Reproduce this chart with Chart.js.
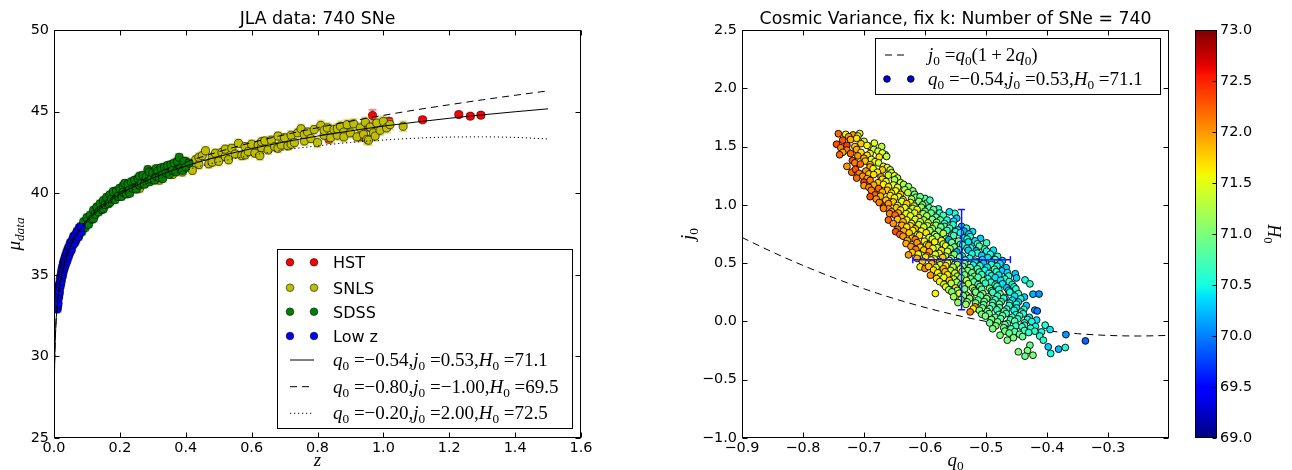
<!DOCTYPE html>
<html>
<head>
<meta charset="utf-8">
<title>JLA SNe: Hubble diagram and cosmography fits</title>
<script src="https://cdn.jsdelivr.net/npm/chart.js@4.4.1/dist/chart.umd.min.js"></script>
<style>
  html, body { margin: 0; padding: 0; background: #fff; }
  #wrap { position: relative; width: 1292px; height: 470px; overflow: hidden; }
  #wrap canvas { position: absolute; top: 0; }
  #left { left: 0; }
  #right { left: 640px; }
  #cbar { left: 1180px; }
</style>
</head>
<body>
<div id="wrap">
  <canvas id="left" width="640" height="470"></canvas>
  <canvas id="right" width="540" height="470"></canvas>
  <canvas id="cbar" width="112" height="470"></canvas>
</div>
<script>
// ---- Hubble diagram: [z, mu, sigma_mu] per survey ----
const hstSNe = [
  [0.835, 43.30, 0.20], [0.930, 43.45, 0.20], [0.955, 44.05, 0.25], [0.967, 44.76, 0.35],
  [1.017, 44.41, 0.18], [1.119, 44.50, 0.15], [1.229, 44.82, 0.14], [1.264, 44.72, 0.14],
  [1.296, 44.78, 0.14]
];
const snlsSNe = [
  [0.22, 40.35, 0.25], [0.26, 40.30, 0.25], [0.30, 41.20, 0.25], [0.32, 40.80, 0.25], [0.34, 41.35, 0.25],
  [0.36, 41.15, 0.25], [0.36, 41.55, 0.25], [0.37, 41.70, 0.25], [0.39, 41.30, 0.25], [0.40, 41.95, 0.25],
  [0.41, 41.60, 0.25], [0.42, 41.40, 0.25], [0.43, 42.05, 0.25], [0.44, 41.75, 0.25], [0.44, 42.20, 0.25],
  [0.45, 42.30, 0.25], [0.46, 42.60, 0.25], [0.47, 41.80, 0.25], [0.48, 42.20, 0.25], [0.48, 41.90, 0.25],
  [0.49, 42.45, 0.25], [0.50, 41.95, 0.25], [0.51, 42.50, 0.25], [0.52, 42.25, 0.25], [0.52, 42.70, 0.25],
  [0.53, 42.05, 0.25], [0.54, 42.75, 0.25], [0.55, 42.40, 0.25], [0.56, 43.05, 0.25], [0.57, 42.30, 0.25],
  [0.58, 42.85, 0.25], [0.58, 42.35, 0.25], [0.59, 42.55, 0.25], [0.60, 43.00, 0.25], [0.61, 42.45, 0.25],
  [0.62, 42.95, 0.25], [0.625, 42.30, 0.25], [0.63, 42.80, 0.25], [0.63, 43.15, 0.25], [0.64, 43.20, 0.25],
  [0.65, 42.65, 0.25], [0.66, 43.25, 0.25], [0.67, 42.85, 0.25], [0.68, 43.50, 0.25], [0.68, 42.75, 0.25],
  [0.69, 42.95, 0.25], [0.70, 43.40, 0.25], [0.71, 42.90, 0.25], [0.72, 43.55, 0.25], [0.72, 43.00, 0.25],
  [0.73, 43.10, 0.25], [0.74, 43.70, 0.25], [0.75, 43.95, 0.25], [0.76, 43.20, 0.25], [0.76, 43.60, 0.25],
  [0.77, 43.75, 0.25], [0.78, 43.35, 0.25], [0.79, 43.90, 0.25], [0.80, 43.10, 0.30], [0.81, 44.15, 0.30],
  [0.82, 43.55, 0.30], [0.82, 43.85, 0.30], [0.83, 44.00, 0.30], [0.84, 43.40, 0.30], [0.85, 43.90, 0.30],
  [0.86, 43.55, 0.30], [0.86, 43.95, 0.30], [0.87, 44.10, 0.30], [0.88, 43.75, 0.30], [0.88, 43.45, 0.30],
  [0.89, 44.20, 0.30], [0.90, 43.70, 0.30], [0.91, 44.25, 0.30], [0.92, 43.45, 0.30], [0.93, 44.00, 0.30],
  [0.94, 43.60, 0.30], [0.945, 44.35, 0.30], [0.95, 43.30, 0.30], [0.955, 43.25, 0.30], [0.96, 44.05, 0.30],
  [0.97, 43.70, 0.30], [0.975, 43.50, 0.30], [0.98, 44.30, 0.30], [0.99, 43.85, 0.30], [1.00, 44.40, 0.30],
  [1.01, 44.00, 0.30], [1.02, 44.20, 0.30], [1.06, 44.10, 0.30]
];
const sdssSNe = [
  [0.045, 36.55, 0.2], [0.050, 36.95, 0.2], [0.055, 36.85, 0.2], [0.060, 37.30, 0.2], [0.065, 37.05, 0.2],
  [0.070, 37.60, 0.2], [0.075, 37.35, 0.2], [0.080, 37.95, 0.2], [0.085, 37.65, 0.2], [0.090, 38.25, 0.2],
  [0.095, 37.90, 0.2], [0.100, 38.50, 0.2], [0.105, 38.10, 0.2], [0.110, 38.65, 0.2], [0.115, 38.40, 0.2],
  [0.120, 38.95, 0.2], [0.120, 38.45, 0.2], [0.125, 38.70, 0.2], [0.130, 39.15, 0.2], [0.135, 38.85, 0.2],
  [0.140, 39.35, 0.2], [0.145, 39.00, 0.2], [0.150, 39.55, 0.2], [0.150, 39.05, 0.2], [0.155, 39.30, 0.2],
  [0.160, 39.75, 0.2], [0.165, 39.35, 0.2], [0.170, 39.90, 0.2], [0.170, 39.45, 0.2], [0.175, 39.65, 0.2],
  [0.180, 40.10, 0.2], [0.185, 39.60, 0.2], [0.190, 40.15, 0.2], [0.195, 39.80, 0.2], [0.200, 40.30, 0.2],
  [0.205, 39.80, 0.2], [0.210, 40.45, 0.2], [0.210, 40.05, 0.2], [0.215, 40.60, 0.2], [0.220, 39.95, 0.2],
  [0.225, 40.55, 0.2], [0.230, 40.20, 0.2], [0.230, 40.00, 0.2], [0.235, 40.70, 0.2], [0.240, 40.30, 0.2],
  [0.245, 40.80, 0.2], [0.250, 40.25, 0.2], [0.255, 40.90, 0.2], [0.260, 40.50, 0.2], [0.260, 41.05, 0.2],
  [0.265, 40.60, 0.2], [0.270, 41.10, 0.2], [0.275, 40.55, 0.2], [0.280, 41.00, 0.2], [0.285, 41.45, 0.2],
  [0.290, 40.70, 0.2], [0.290, 41.30, 0.2], [0.295, 40.85, 0.2], [0.300, 41.25, 0.2], [0.305, 40.80, 0.2],
  [0.310, 41.50, 0.2], [0.310, 41.05, 0.2], [0.315, 41.35, 0.2], [0.320, 40.95, 0.2], [0.325, 41.55, 0.2],
  [0.330, 41.10, 0.2], [0.330, 40.90, 0.2], [0.335, 41.60, 0.2], [0.340, 41.25, 0.2], [0.345, 41.70, 0.2],
  [0.350, 41.15, 0.2], [0.355, 41.75, 0.2], [0.360, 41.40, 0.2], [0.365, 41.85, 0.2], [0.370, 41.30, 0.2],
  [0.375, 41.95, 0.2], [0.380, 42.20, 0.2], [0.385, 41.55, 0.2], [0.390, 41.40, 0.2], [0.395, 41.95, 0.2],
  [0.400, 41.60, 0.2], [0.410, 41.85, 0.2]
];
const lowzSNe = [
  [0.0100, 32.90, 0.2], [0.0105, 33.35, 0.2], [0.0110, 33.10, 0.2], [0.0120, 33.65, 0.2], [0.0125, 33.25, 0.2],
  [0.0130, 33.80, 0.2], [0.0140, 33.60, 0.2], [0.0145, 34.20, 0.2], [0.0150, 33.80, 0.2], [0.0160, 34.35, 0.2],
  [0.0165, 33.95, 0.2], [0.0170, 34.45, 0.2], [0.0180, 34.25, 0.2], [0.0190, 34.75, 0.2], [0.0200, 34.40, 0.2],
  [0.0210, 34.95, 0.2], [0.0220, 34.60, 0.2], [0.0230, 35.20, 0.2], [0.0240, 34.85, 0.2], [0.0250, 35.40, 0.2],
  [0.0260, 35.00, 0.2], [0.0270, 35.55, 0.2], [0.0280, 35.20, 0.2], [0.0290, 35.75, 0.2], [0.0300, 35.35, 0.2],
  [0.0310, 35.85, 0.2], [0.0320, 35.50, 0.2], [0.0330, 36.00, 0.2], [0.0340, 35.60, 0.2], [0.0350, 36.15, 0.2],
  [0.0360, 35.75, 0.2], [0.0380, 36.30, 0.2], [0.0390, 35.85, 0.2], [0.0400, 36.45, 0.2], [0.0420, 36.05, 0.2],
  [0.0440, 36.65, 0.2], [0.0450, 36.20, 0.2], [0.0470, 36.75, 0.2], [0.0490, 36.40, 0.2], [0.0510, 36.95, 0.2],
  [0.0530, 36.55, 0.2], [0.0550, 37.10, 0.2], [0.0580, 36.85, 0.2], [0.0600, 37.35, 0.2], [0.0620, 36.95, 0.2],
  [0.0650, 37.45, 0.2], [0.0680, 37.20, 0.2], [0.0700, 37.65, 0.2], [0.0730, 37.35, 0.2], [0.0760, 37.85, 0.2],
  [0.0800, 37.60, 0.2], [0.0830, 37.90, 0.2]
];
const surveyNames = ['HST', 'SNLS', 'SDSS', 'Low z'];

// cosmographic fits (q0, j0, H0)
const modelQ0 = [-0.54, -0.80, -0.20];
const modelJ0 = [0.53, -1.00, 2.00];
const modelH0 = [71.1, 69.5, 72.5];
// distance modulus of each fit sampled along z
const curveZ   = [0.001, 0.002, 0.005, 0.01, 0.02, 0.03, 0.05, 0.07, 0.1, 0.15, 0.2, 0.3, 0.4, 0.5, 0.6, 0.7, 0.8, 0.9, 1.0, 1.1, 1.2, 1.3, 1.4, 1.5];
const muBest   = [28.13, 29.63, 31.63, 33.14, 34.66, 35.56, 36.70, 37.46, 38.28, 39.23, 39.93, 40.93, 41.66, 42.25, 42.73, 43.14, 43.50, 43.82, 44.11, 44.36, 44.59, 44.80, 44.99, 45.17];
const muSteep  = [28.18, 29.68, 31.68, 33.19, 34.72, 35.62, 36.77, 37.53, 38.37, 39.34, 40.05, 41.11, 41.90, 42.54, 43.10, 43.58, 44.01, 44.41, 44.77, 45.11, 45.42, 45.72, 46.00, 46.27];
const muFlat   = [28.08, 29.59, 31.58, 33.10, 34.61, 35.51, 36.64, 37.39, 38.20, 39.13, 39.79, 40.74, 41.41, 41.92, 42.32, 42.65, 42.90, 43.11, 43.26, 43.37, 43.44, 43.45, 43.42, 43.32];

// ---- cosmic variance samples: [q0, j0, H0] ----
const cvSamples = [
  [-0.742, 1.610, 72.2], [-0.730, 1.605, 71.6], [-0.718, 1.600, 72.0], [-0.707, 1.612, 71.5],
  [-0.725, 1.585, 72.0], [-0.710, 1.590, 71.6],
  [-0.735, 1.555, 72.3], [-0.722, 1.560, 71.9], [-0.712, 1.570, 71.7], [-0.700, 1.545, 71.4],
  [-0.745, 1.520, 72.3], [-0.705, 1.525, 71.8], [-0.690, 1.500, 71.5],
  [-0.738, 1.490, 72.1], [-0.728, 1.510, 72.4], [-0.715, 1.500, 71.8], [-0.695, 1.510, 71.6], [-0.683, 1.530, 71.5], [-0.671, 1.500, 71.3],
  [-0.728, 1.470, 72.1], [-0.712, 1.475, 71.9], [-0.684, 1.475, 71.4],
  [-0.735, 1.450, 71.9], [-0.722, 1.440, 72.2], [-0.705, 1.450, 71.7], [-0.690, 1.440, 71.6], [-0.677, 1.460, 71.4], [-0.665, 1.430, 71.2],
  [-0.740, 1.430, 72.2], [-0.710, 1.420, 72.0], [-0.695, 1.425, 71.7], [-0.670, 1.445, 71.5],
  [-0.719, 1.380, 72.3], [-0.700, 1.400, 71.9], [-0.688, 1.390, 71.5], [-0.675, 1.410, 71.7], [-0.663, 1.415, 71.3],
  [-0.715, 1.360, 72.1], [-0.698, 1.375, 71.8], [-0.682, 1.370, 71.6],
  [-0.728, 1.330, 72.0], [-0.706, 1.350, 72.2], [-0.690, 1.345, 71.8], [-0.676, 1.360, 71.4], [-0.668, 1.330, 71.6],
  [-0.720, 1.280, 72.2], [-0.690, 1.325, 71.9], [-0.662, 1.320, 71.5],
  [-0.714, 1.305, 72.3], [-0.697, 1.290, 72.0], [-0.685, 1.310, 71.6], [-0.670, 1.300, 71.8], [-0.657, 1.300, 71.3],
  [-0.708, 1.270, 72.1], [-0.692, 1.265, 71.8], [-0.678, 1.280, 71.6], [-0.655, 1.275, 71.4],
  [-0.702, 1.245, 72.0], [-0.684, 1.260, 71.7], [-0.672, 1.240, 71.9], [-0.660, 1.255, 71.4], [-0.650, 1.250, 71.5],
  [-0.712, 1.230, 72.2], [-0.695, 1.225, 71.9], [-0.670, 1.220, 71.7], [-0.645, 1.230, 71.3],
  [-0.700, 1.196, 72.4], [-0.690, 1.210, 72.1], [-0.677, 1.190, 71.8], [-0.664, 1.200, 71.6], [-0.650, 1.215, 71.2], [-0.640, 1.190, 71.4],
  [-0.700, 1.165, 72.0], [-0.684, 1.170, 71.9], [-0.668, 1.175, 71.6], [-0.652, 1.170, 71.5], [-0.635, 1.175, 71.2],
  [-0.692, 1.150, 72.1], [-0.676, 1.140, 72.2], [-0.660, 1.155, 71.7], [-0.645, 1.150, 71.5], [-0.627, 1.156, 71.1],
  [-0.688, 1.125, 72.1], [-0.662, 1.125, 71.8], [-0.648, 1.120, 71.6], [-0.633, 1.130, 71.3], [-0.620, 1.120, 71.1],
  [-0.682, 1.085, 72.2], [-0.670, 1.110, 71.9], [-0.655, 1.100, 71.6], [-0.640, 1.090, 71.8], [-0.628, 1.105, 71.3], [-0.617, 1.090, 71.0],
  [-0.690, 1.070, 72.3], [-0.673, 1.075, 71.9], [-0.657, 1.080, 71.7], [-0.643, 1.070, 71.5], [-0.615, 1.065, 71.0], [-0.600, 1.055, 70.8],
  [-0.680, 1.050, 72.0], [-0.664, 1.040, 71.8], [-0.650, 1.060, 71.5], [-0.636, 1.045, 71.7], [-0.622, 1.050, 71.2], [-0.608, 1.070, 70.9],
  [-0.675, 1.020, 72.1], [-0.652, 1.025, 71.8], [-0.638, 1.030, 71.5], [-0.624, 1.020, 71.6], [-0.610, 1.030, 71.1], [-0.597, 1.015, 70.9],
  [-0.668, 0.983, 72.3], [-0.660, 1.010, 72.0], [-0.645, 0.995, 71.6], [-0.630, 1.010, 71.8], [-0.618, 0.990, 71.3], [-0.604, 1.000, 71.0], [-0.592, 1.040, 70.7],
  [-0.660, 0.965, 72.0], [-0.647, 0.975, 71.8], [-0.633, 0.975, 71.5], [-0.620, 0.970, 71.3], [-0.606, 0.980, 71.1], [-0.593, 0.975, 70.8], [-0.578, 0.965, 70.7],
  [-0.668, 0.970, 72.1], [-0.655, 0.940, 71.9], [-0.640, 0.955, 71.7], [-0.626, 0.940, 71.4], [-0.613, 0.960, 71.6], [-0.600, 0.945, 71.0], [-0.586, 0.960, 70.8], [-0.551, 0.927, 70.6],
  [-0.658, 0.925, 72.1], [-0.644, 0.930, 71.9], [-0.631, 0.925, 71.6], [-0.617, 0.930, 71.4], [-0.603, 0.925, 71.2], [-0.590, 0.930, 70.9], [-0.576, 0.930, 70.6], [-0.560, 0.940, 70.4],
  [-0.649, 0.913, 72.2], [-0.638, 0.890, 71.8], [-0.624, 0.905, 71.5], [-0.610, 0.890, 71.7], [-0.597, 0.905, 71.2], [-0.582, 0.895, 70.9], [-0.570, 0.910, 70.7], [-0.564, 0.870, 70.5],
  [-0.660, 0.870, 72.2], [-0.645, 0.875, 71.8], [-0.630, 0.870, 71.6], [-0.616, 0.875, 71.5], [-0.602, 0.870, 71.2], [-0.588, 0.875, 71.0], [-0.575, 0.870, 70.8], [-0.548, 0.885, 70.3],
  [-0.652, 0.840, 72.0], [-0.636, 0.855, 71.9], [-0.622, 0.840, 71.6], [-0.608, 0.855, 71.3], [-0.595, 0.845, 71.5], [-0.581, 0.850, 71.0], [-0.568, 0.840, 70.6], [-0.553, 0.860, 70.4],
  [-0.638, 0.825, 71.9], [-0.624, 0.820, 71.7], [-0.610, 0.830, 71.4], [-0.596, 0.820, 71.3], [-0.582, 0.825, 71.1], [-0.568, 0.815, 70.8], [-0.554, 0.830, 70.5], [-0.540, 0.815, 70.3],
  [-0.645, 0.790, 72.1], [-0.630, 0.810, 71.7], [-0.616, 0.795, 71.9], [-0.602, 0.810, 71.4], [-0.588, 0.795, 71.2], [-0.574, 0.810, 70.9], [-0.560, 0.800, 70.7], [-0.546, 0.785, 70.4], [-0.532, 0.800, 70.6],
  [-0.648, 0.770, 72.3], [-0.635, 0.775, 71.9], [-0.620, 0.780, 71.6], [-0.606, 0.775, 71.5], [-0.592, 0.780, 71.2], [-0.578, 0.775, 71.0], [-0.564, 0.780, 70.7], [-0.550, 0.770, 70.5], [-0.536, 0.775, 70.2], [-0.522, 0.770, 70.4],
  [-0.641, 0.746, 72.2], [-0.626, 0.760, 71.8], [-0.612, 0.745, 71.5], [-0.598, 0.760, 71.7], [-0.584, 0.745, 71.1], [-0.570, 0.755, 71.3], [-0.556, 0.740, 70.8], [-0.542, 0.760, 70.5], [-0.528, 0.750, 70.3],
  [-0.636, 0.731, 72.0], [-0.621, 0.714, 71.8], [-0.609, 0.738, 71.7], [-0.593, 0.719, 71.4], [-0.581, 0.728, 71.2], [-0.565, 0.709, 71.0], [-0.553, 0.736, 70.7], [-0.537, 0.716, 70.4], [-0.526, 0.727, 70.6], [-0.509, 0.712, 70.3],
  [-0.629, 0.694, 71.9], [-0.616, 0.703, 72.1], [-0.601, 0.688, 71.6], [-0.588, 0.706, 71.4], [-0.573, 0.693, 71.6], [-0.561, 0.701, 70.2], [-0.545, 0.689, 70.9], [-0.531, 0.707, 70.6], [-0.518, 0.691, 70.4],
  [-0.631, 0.668, 71.9], [-0.613, 0.676, 72.0], [-0.597, 0.659, 71.5], [-0.584, 0.681, 71.6], [-0.570, 0.664, 71.3], [-0.556, 0.677, 70.9], [-0.542, 0.661, 70.6], [-0.529, 0.682, 70.4], [-0.514, 0.666, 70.5], [-0.499, 0.674, 70.7],
  [-0.623, 0.643, 72.0], [-0.608, 0.636, 71.7], [-0.594, 0.651, 71.9], [-0.580, 0.633, 71.3], [-0.566, 0.648, 71.5], [-0.552, 0.638, 71.0], [-0.538, 0.655, 70.7], [-0.525, 0.631, 70.5], [-0.511, 0.646, 70.8],
  [-0.615, 0.618, 72.1], [-0.602, 0.612, 71.8], [-0.587, 0.627, 71.5], [-0.573, 0.609, 71.7], [-0.559, 0.624, 71.1], [-0.544, 0.613, 70.8], [-0.531, 0.628, 70.5], [-0.516, 0.606, 70.2], [-0.502, 0.621, 70.6], [-0.488, 0.611, 70.4],
  [-0.621, 0.592, 71.8], [-0.605, 0.567, 71.2], [-0.593, 0.598, 72.0], [-0.577, 0.584, 71.6], [-0.563, 0.601, 71.4], [-0.548, 0.597, 70.2], [-0.529, 0.610, 70.3], [-0.514, 0.586, 70.6], [-0.499, 0.603, 70.5],
  [-0.627, 0.571, 72.0], [-0.611, 0.578, 71.6], [-0.597, 0.563, 71.9], [-0.583, 0.575, 71.4], [-0.566, 0.559, 71.2], [-0.552, 0.574, 71.0], [-0.539, 0.562, 70.6], [-0.523, 0.579, 70.5], [-0.507, 0.566, 70.3], [-0.493, 0.577, 70.5], [-0.481, 0.558, 70.6],
  [-0.613, 0.541, 71.9], [-0.599, 0.552, 71.7], [-0.585, 0.536, 71.5], [-0.571, 0.549, 71.8], [-0.557, 0.538, 71.1], [-0.543, 0.553, 70.9], [-0.527, 0.542, 70.6], [-0.513, 0.510, 70.5], [-0.497, 0.547, 70.4], [-0.485, 0.531, 70.7],
  [-0.604, 0.516, 71.8], [-0.590, 0.527, 71.6], [-0.576, 0.514, 71.9], [-0.560, 0.522, 71.3], [-0.546, 0.511, 71.1], [-0.534, 0.526, 70.8], [-0.518, 0.517, 70.6], [-0.506, 0.529, 70.4], [-0.491, 0.509, 70.5], [-0.473, 0.521, 70.3],
  [-0.608, 0.468, 71.6], [-0.600, 0.454, 72.1], [-0.589, 0.497, 71.9], [-0.575, 0.486, 71.4], [-0.563, 0.501, 71.6], [-0.547, 0.488, 71.2], [-0.535, 0.496, 70.9], [-0.521, 0.484, 70.5], [-0.504, 0.499, 70.3], [-0.491, 0.487, 70.6], [-0.477, 0.496, 70.4],
  [-0.594, 0.471, 71.8], [-0.582, 0.463, 71.5], [-0.566, 0.478, 71.7], [-0.554, 0.466, 71.2], [-0.538, 0.473, 71.0], [-0.526, 0.462, 70.8], [-0.510, 0.477, 70.6], [-0.498, 0.465, 70.4], [-0.482, 0.474, 70.5], [-0.467, 0.461, 70.3],
  [-0.586, 0.441, 71.7], [-0.570, 0.452, 71.9], [-0.558, 0.437, 71.3], [-0.542, 0.449, 71.5], [-0.530, 0.436, 71.0], [-0.514, 0.451, 70.8], [-0.502, 0.439, 70.5], [-0.486, 0.448, 70.7], [-0.474, 0.434, 70.3],
  [-0.579, 0.417, 71.6], [-0.567, 0.426, 71.8], [-0.551, 0.414, 71.4], [-0.539, 0.428, 71.1], [-0.523, 0.417, 70.9], [-0.511, 0.423, 70.7], [-0.495, 0.412, 70.5], [-0.483, 0.427, 70.6], [-0.465, 0.418, 70.4], [-0.452, 0.409, 70.3],
  [-0.591, 0.397, 72.0], [-0.575, 0.386, 71.5], [-0.563, 0.401, 71.7], [-0.547, 0.388, 71.3], [-0.535, 0.399, 71.0], [-0.519, 0.386, 71.2], [-0.507, 0.402, 70.7], [-0.491, 0.391, 70.5], [-0.479, 0.398, 70.4], [-0.463, 0.389, 70.6],
  [-0.581, 0.368, 71.7], [-0.569, 0.377, 71.5], [-0.553, 0.364, 71.3], [-0.541, 0.374, 71.1], [-0.525, 0.366, 70.8], [-0.513, 0.379, 70.7], [-0.497, 0.367, 70.5], [-0.485, 0.376, 70.4], [-0.469, 0.364, 70.6], [-0.450, 0.373, 70.3],
  [-0.576, 0.341, 71.6], [-0.560, 0.352, 71.8], [-0.548, 0.337, 71.2], [-0.532, 0.351, 71.4], [-0.520, 0.339, 70.9], [-0.504, 0.349, 71.1], [-0.492, 0.336, 70.6], [-0.476, 0.353, 70.4], [-0.462, 0.342, 70.5], [-0.436, 0.356, 70.5],
  [-0.569, 0.318, 71.5], [-0.557, 0.327, 71.3], [-0.541, 0.314, 71.0], [-0.529, 0.323, 71.2], [-0.513, 0.316, 70.8], [-0.501, 0.328, 70.6], [-0.485, 0.313, 70.7], [-0.473, 0.322, 70.4], [-0.457, 0.317, 70.5], [-0.428, 0.322, 70.6],
  [-0.583, 0.240, 71.6], [-0.566, 0.296, 71.5], [-0.550, 0.287, 71.7], [-0.538, 0.301, 71.1], [-0.522, 0.286, 71.3], [-0.510, 0.299, 70.8], [-0.494, 0.284, 71.0], [-0.482, 0.302, 70.6], [-0.466, 0.288, 70.3], [-0.454, 0.297, 70.5],
  [-0.561, 0.271, 71.3], [-0.547, 0.266, 71.1], [-0.535, 0.278, 71.0], [-0.519, 0.264, 70.9], [-0.507, 0.276, 70.8], [-0.491, 0.262, 70.6], [-0.479, 0.274, 70.5], [-0.463, 0.266, 70.4], [-0.451, 0.279, 70.6],
  [-0.556, 0.254, 71.0], [-0.544, 0.242, 71.4], [-0.532, 0.225, 71.2], [-0.517, 0.251, 71.0], [-0.505, 0.237, 71.2], [-0.489, 0.249, 70.7], [-0.477, 0.236, 70.9], [-0.461, 0.252, 70.5], [-0.447, 0.238, 70.6], [-0.423, 0.234, 70.2], [-0.413, 0.235, 70.1],
  [-0.553, 0.212, 71.2], [-0.537, 0.219, 71.0], [-0.525, 0.208, 71.1], [-0.509, 0.221, 70.8], [-0.497, 0.211, 70.9], [-0.481, 0.218, 70.6], [-0.469, 0.206, 70.5], [-0.453, 0.217, 70.4], [-0.437, 0.209, 70.3],
  [-0.541, 0.187, 71.3], [-0.527, 0.198, 71.1], [-0.513, 0.184, 70.9], [-0.499, 0.196, 71.0], [-0.485, 0.186, 70.7], [-0.471, 0.199, 70.6], [-0.457, 0.183, 70.4], [-0.443, 0.194, 70.5],
  [-0.546, 0.162, 71.1], [-0.531, 0.168, 70.9], [-0.517, 0.158, 71.0], [-0.503, 0.171, 70.8], [-0.489, 0.161, 70.7], [-0.475, 0.169, 70.6], [-0.461, 0.157, 70.5], [-0.447, 0.166, 70.4],
  [-0.533, 0.146, 71.2], [-0.518, 0.125, 72.0], [-0.504, 0.143, 71.0], [-0.490, 0.136, 70.8], [-0.478, 0.149, 70.9], [-0.462, 0.137, 70.6], [-0.450, 0.148, 70.5], [-0.434, 0.136, 70.3],
  [-0.521, 0.107, 71.6], [-0.506, 0.116, 70.9], [-0.494, 0.109, 70.8], [-0.478, 0.118, 70.7], [-0.466, 0.106, 70.6], [-0.450, 0.116, 70.4], [-0.438, 0.104, 70.5],
  [-0.526, 0.082, 72.1], [-0.511, 0.096, 71.0], [-0.498, 0.086, 70.9], [-0.482, 0.099, 70.7], [-0.470, 0.087, 70.8], [-0.454, 0.096, 70.5], [-0.442, 0.081, 70.6], [-0.420, 0.097, 70.1], [-0.416, 0.090, 70.0],
  [-0.507, 0.061, 71.0], [-0.495, 0.067, 70.9], [-0.479, 0.059, 70.8], [-0.467, 0.068, 70.7], [-0.451, 0.058, 70.5], [-0.439, 0.066, 70.6],
  [-0.501, 0.046, 71.0], [-0.485, 0.036, 70.8], [-0.473, 0.049, 70.9], [-0.457, 0.037, 70.6], [-0.445, 0.047, 70.7], [-0.429, 0.035, 70.4],
  [-0.491, 0.017, 71.0], [-0.476, 0.024, 70.8], [-0.460, 0.014, 70.7], [-0.448, 0.022, 70.6], [-0.432, 0.016, 70.5], [-0.417, 0.012, 70.4],
  [-0.494, -0.013, 70.9], [-0.481, -0.004, 71.0], [-0.465, -0.018, 70.7], [-0.453, 0.002, 70.8], [-0.437, -0.012, 70.6], [-0.425, -0.002, 70.5], [-0.403, -0.032, 70.6],
  [-0.484, -0.038, 71.0], [-0.469, -0.027, 70.9], [-0.451, -0.039, 70.7], [-0.437, -0.033, 70.6], [-0.419, -0.044, 70.5],
  [-0.489, -0.063, 71.0], [-0.471, -0.054, 70.9], [-0.459, -0.064, 70.8], [-0.441, -0.046, 70.7], [-0.427, -0.058, 70.6], [-0.409, -0.090, 70.5], [-0.395, -0.070, 70.4],
  [-0.469, -0.083, 71.0], [-0.453, -0.088, 70.8], [-0.437, -0.078, 70.7], [-0.420, -0.084, 70.6],
  [-0.477, -0.118, 71.0], [-0.462, -0.100, 70.9], [-0.445, -0.110, 70.8], [-0.430, -0.095, 70.6], [-0.369, -0.113, 70.1],
  [-0.455, -0.140, 71.0], [-0.440, -0.130, 70.9], [-0.412, -0.125, 70.6],
  [-0.465, -0.161, 71.0], [-0.406, -0.161, 70.6], [-0.337, -0.167, 69.9],
  [-0.428, -0.204, 70.9], [-0.398, -0.218, 70.3], [-0.381, -0.238, 70.2], [-0.370, -0.224, 70.6],
  [-0.447, -0.261, 71.0], [-0.432, -0.250, 71.0], [-0.423, -0.290, 71.0], [-0.436, -0.298, 70.9], [-0.394, -0.275, 70.5]
];
// best fit with 1-sigma errors
const bestQ0 = -0.54, bestJ0 = 0.53, bestH0 = 71.1;
const errQ0 = 0.08, errJ0 = 0.43;
const cvCount = 740;
// flat-universe relation j0 = q0 (1 + 2 q0)
const relQ0 = [-0.90, -0.85, -0.80, -0.75, -0.70, -0.65, -0.60, -0.55, -0.50, -0.45, -0.40, -0.35, -0.30, -0.25, -0.20];
const relJ0 = [0.720, 0.595, 0.480, 0.375, 0.280, 0.195, 0.120, 0.055, 0.000, -0.045, -0.080, -0.105, -0.120, -0.125, -0.120];
// colour range of H0
const hMin = 69.0, hMax = 73.0;

const SANS = '"DejaVu Sans", sans-serif';
const SERIF = '"Liberation Serif", "DejaVu Serif", serif';
Chart.defaults.font.family = SANS;
Chart.defaults.font.size = 14.4;
Chart.defaults.color = '#000';

// matplotlib "jet"
function jet(t) {
  t = Math.min(1, Math.max(0, t));
  const seg = pts => {
    for (let i = 1; i < pts.length; i++) {
      if (t <= pts[i][0]) {
        const [x0, y0] = pts[i - 1], [x1, y1] = pts[i];
        return y0 + (y1 - y0) * (t - x0) / (x1 - x0);
      }
    }
    return pts[pts.length - 1][1];
  };
  const r = seg([[0, 0], [0.35, 0], [0.66, 1], [0.89, 1], [1, 0.5]]);
  const g = seg([[0, 0], [0.125, 0], [0.375, 1], [0.64, 1], [0.91, 0], [1, 0]]);
  const b = seg([[0, 0.5], [0.11, 1], [0.34, 1], [0.65, 0], [1, 0]]);
  return `rgb(${Math.round(r * 255)},${Math.round(g * 255)},${Math.round(b * 255)})`;
}

function fmt(v, d) { return (v < 0 ? '\u2212' : '') + Math.abs(v).toFixed(d); }

// tiny mathtext: parts are [text, kind], kind has 'i' for italic, 's' for subscript
function mathFont(kind, size) {
  const s = kind.includes('s') ? size * 0.7 : size;
  return `${kind.includes('i') ? 'italic ' : ''}${s}px ${SERIF}`;
}
function mathWidth(ctx, parts, size) {
  let w = 0;
  for (const [t, k] of parts) { ctx.font = mathFont(k, size); w += ctx.measureText(t).width; }
  return w;
}
function drawMath(ctx, parts, x, y, size, align) {
  let cx = align === 'center' ? x - mathWidth(ctx, parts, size) / 2 : x;
  ctx.textAlign = 'left';
  ctx.textBaseline = 'alphabetic';
  for (const [t, k] of parts) {
    ctx.font = mathFont(k, size);
    ctx.fillText(t, cx, k.includes('s') ? y + size * 0.22 : y);
    cx += ctx.measureText(t).width;
  }
}
function fitParts(q, j, h) {
  return [['q', 'i'], ['0', 's'], [' =', 'r'], [fmt(q, 2), 'r'], [',', 'r'],
          ['j', 'i'], ['0', 's'], [' =', 'r'], [fmt(j, 2), 'r'], [',', 'r'],
          ['H', 'i'], ['0', 's'], [' =', 'r'], [fmt(h, 1), 'r']];
}

function dot(ctx, x, y, r, fill, edge, lw) {
  ctx.beginPath();
  ctx.arc(x, y, r, 0, Math.PI * 2);
  ctx.fillStyle = fill;
  ctx.fill();
  ctx.lineWidth = lw;
  ctx.strokeStyle = edge;
  ctx.stroke();
}
function seg(ctx, x1, y1, x2, y2) {
  ctx.beginPath();
  ctx.moveTo(x1, y1);
  ctx.lineTo(x2, y2);
  ctx.stroke();
}

// fix axis box sizes so the plot areas land where they should
function fixBox(w, h) {
  return s => {
    if (w !== undefined) s.width = w;
    if (h !== undefined) s.height = h;
    s.paddingLeft = s.paddingRight = s.paddingTop = s.paddingBottom = 0;
  };
}

// frame with inward ticks on all four sides
const frameTicks = {
  id: 'frameTicks',
  afterDatasetsDraw(chart) {
    const { ctx, chartArea: a, scales: { x, y } } = chart;
    const L = Math.round(a.left) + 0.5, R = Math.round(a.right) - 0.5;
    const T = Math.round(a.top) + 0.5, B = Math.round(a.bottom) - 0.5;
    ctx.save();
    ctx.strokeStyle = '#000';
    ctx.lineWidth = 1;
    ctx.setLineDash([]);
    ctx.strokeRect(L, T, R - L, B - T);
    const len = 5;
    x.ticks.forEach(t => {
      const px = Math.round(x.getPixelForValue(t.value)) + 0.5;
      seg(ctx, px, B, px, B - len);
      seg(ctx, px, T, px, T + len);
    });
    y.ticks.forEach(t => {
      const py = Math.round(y.getPixelForValue(t.value)) + 0.5;
      seg(ctx, L, py, L + len, py);
      seg(ctx, R, py, R - len, py);
    });
    ctx.restore();
  }
};

// vertical error bars, drawn just under each survey's markers
const errorBars = {
  id: 'errorBars',
  beforeDatasetDraw(chart, args) {
    const ds = chart.data.datasets[args.index];
    if (!ds.errColor) return;
    const { ctx, chartArea: a, scales: { y } } = chart;
    ctx.save();
    ctx.beginPath();
    ctx.rect(a.left, a.top, a.right - a.left, a.bottom - a.top);
    ctx.clip();
    ctx.strokeStyle = ds.errColor;
    ctx.lineWidth = 2;
    args.meta.data.forEach((pt, i) => {
      const r = ds.data[i];
      const y1 = y.getPixelForValue(r.y - r.e), y2 = y.getPixelForValue(r.y + r.e);
      seg(ctx, pt.x, y1, pt.x, y2);
      seg(ctx, pt.x - 4, y1, pt.x + 4, y1);
      seg(ctx, pt.x - 4, y2, pt.x + 4, y2);
    });
    ctx.restore();
  }
};

const surveyColors = ['#ff0000', '#bfbf00', '#008000', '#0000ff'];

const leftDecor = {
  id: 'leftDecor',
  afterDraw(chart) {
    const { ctx, chartArea: a } = chart;
    ctx.save();
    ctx.fillStyle = '#000';
    ctx.font = `17.3px ${SANS}`;
    ctx.textAlign = 'center';
    ctx.textBaseline = 'alphabetic';
    ctx.fillText('JLA data: 740 SNe', (a.left + a.right) / 2, 24);
    drawMath(ctx, [['z', 'i']], (a.left + a.right) / 2, 466, 19, 'center');
    ctx.translate(20, (a.top + a.bottom) / 2);
    ctx.rotate(-Math.PI / 2);
    drawMath(ctx, [['\u03bc', 'i'], ['data', 'is']], 0, 0, 19, 'center');
    ctx.restore();

    // legend
    ctx.save();
    ctx.fillStyle = '#fff';
    ctx.fillRect(277, 249, 296, 180);
    ctx.strokeStyle = '#000';
    ctx.lineWidth = 1;
    ctx.strokeRect(277.5, 249.5, 295, 179);
    const rowY = [262.3, 287.7, 311.7, 336, 360, 386.7, 413.3];
    surveyNames.forEach((name, i) => {
      dot(ctx, 290, rowY[i], 3.8, surveyColors[i], 'rgba(0,0,0,0.8)', 0.7);
      dot(ctx, 314, rowY[i], 3.8, surveyColors[i], 'rgba(0,0,0,0.8)', 0.7);
      ctx.fillStyle = '#000';
      ctx.font = `16px ${SANS}`;
      ctx.textAlign = 'left';
      ctx.textBaseline = 'alphabetic';
      ctx.fillText(name, 333, rowY[i] + 6);
    });
    const dashes = [[], [7, 5], [1.2, 2.8]];
    modelQ0.forEach((q, i) => {
      const yy = rowY[4 + i];
      ctx.strokeStyle = '#000';
      ctx.lineWidth = 1;
      ctx.setLineDash(dashes[i]);
      seg(ctx, 290, yy, 314, yy);
      ctx.setLineDash([]);
      ctx.fillStyle = '#000';
      drawMath(ctx, fitParts(q, modelJ0[i], modelH0[i]), 333, yy + 6, 19, 'left');
    });
    ctx.restore();
  }
};

const rightDecor = {
  id: 'rightDecor',
  afterDatasetsDraw(chart) {
    const { ctx, scales: { x, y } } = chart;
    // best fit with error cross
    const cx = x.getPixelForValue(bestQ0), cy = y.getPixelForValue(bestJ0);
    const xl = x.getPixelForValue(bestQ0 - errQ0), xr = x.getPixelForValue(bestQ0 + errQ0);
    const yt = y.getPixelForValue(bestJ0 + errJ0), yb = y.getPixelForValue(bestJ0 - errJ0);
    ctx.save();
    ctx.strokeStyle = '#1414ff';
    ctx.lineWidth = 1.5;
    seg(ctx, xl, cy, xr, cy);
    seg(ctx, cx, yt, cx, yb);
    seg(ctx, xl, cy - 3.5, xl, cy + 3.5);
    seg(ctx, xr, cy - 3.5, xr, cy + 3.5);
    seg(ctx, cx - 3.5, yt, cx + 3.5, yt);
    seg(ctx, cx - 3.5, yb, cx + 3.5, yb);
    ctx.restore();
  },
  afterDraw(chart) {
    const { ctx, chartArea: a } = chart;
    ctx.save();
    ctx.fillStyle = '#000';
    ctx.font = `17.3px ${SANS}`;
    ctx.textAlign = 'center';
    ctx.textBaseline = 'alphabetic';
    ctx.fillText('Cosmic Variance, fix k: Number of SNe = ' + cvCount, (a.left + a.right) / 2, 24);
    drawMath(ctx, [['q', 'i'], ['0', 's']], (a.left + a.right) / 2, 466, 19, 'center');
    ctx.translate(54, (a.top + a.bottom) / 2);
    ctx.rotate(-Math.PI / 2);
    drawMath(ctx, [['j', 'i'], ['0', 's']], 0, 0, 19, 'center');
    ctx.restore();

    // legend
    ctx.save();
    ctx.fillStyle = '#fff';
    ctx.fillRect(235, 38, 286, 57);
    ctx.strokeStyle = '#000';
    ctx.lineWidth = 1;
    ctx.strokeRect(235.5, 38.5, 285, 56);
    ctx.setLineDash([7, 5]);
    seg(ctx, 245, 55, 266, 55);
    ctx.setLineDash([]);
    ctx.fillStyle = '#000';
    drawMath(ctx, [['j', 'i'], ['0', 's'], [' =', 'r'], ['q', 'i'], ['0', 's'], ['(1\u2009+\u20092', 'r'], ['q', 'i'], ['0', 's'], [')', 'r']], 288, 61, 19, 'left');
    dot(ctx, 247, 79, 3.3, 'rgb(0,0,220)', '#000', 0.9);
    dot(ctx, 270.8, 79, 3.3, 'rgb(0,0,220)', '#000', 0.9);
    ctx.fillStyle = '#000';
    drawMath(ctx, fitParts(bestQ0, bestJ0, bestH0), 288, 85, 19, 'left');
    ctx.restore();
  }
};

// ---- left panel: Hubble diagram ----
function survey(rows, color, errColor, order) {
  return {
    type: 'scatter',
    data: rows.map(r => ({ x: r[0], y: r[1], e: r[2] })),
    backgroundColor: color,
    borderColor: 'rgba(0,0,0,0.8)',
    borderWidth: 0.8,
    pointRadius: 4.1,
    order,
    errColor
  };
}
function modelLine(mu, dash) {
  return {
    type: 'line',
    data: curveZ.map((z, i) => ({ x: z, y: mu[i] })),
    borderColor: '#000',
    borderWidth: 1,
    borderDash: dash,
    pointRadius: 0,
    cubicInterpolationMode: 'monotone',
    fill: false,
    order: 0
  };
}

new Chart(document.getElementById('left'), {
  type: 'scatter',
  data: {
    datasets: [
      modelLine(muBest, []),
      modelLine(muSteep, [7, 5]),
      modelLine(muFlat, [1.2, 2.8]),
      survey(lowzSNe, surveyColors[3], 'rgba(0,0,255,0.35)', 1),
      survey(sdssSNe, surveyColors[2], 'rgba(0,128,0,0.4)', 2),
      survey(snlsSNe, surveyColors[1], 'rgba(191,191,0,0.45)', 3),
      survey(hstSNe, surveyColors[0], 'rgba(255,0,0,0.45)', 4)
    ]
  },
  options: {
    responsive: false,
    animation: false,
    layout: { padding: { top: 30, right: 59, left: 0, bottom: 0 } },
    plugins: { legend: { display: false }, tooltip: { enabled: false } },
    scales: {
      x: {
        type: 'linear', min: 0, max: 1.6,
        ticks: { stepSize: 0.2, padding: 2, autoSkip: false, maxRotation: 0, callback: v => v.toFixed(1) },
        grid: { display: false, drawTicks: false },
        border: { display: false },
        afterFit: fixBox(undefined, 32)
      },
      y: {
        type: 'linear', min: 25, max: 50,
        ticks: { stepSize: 5, padding: 5, autoSkip: false },
        grid: { display: false, drawTicks: false },
        border: { display: false },
        afterFit: fixBox(54, undefined)
      }
    }
  },
  plugins: [errorBars, frameTicks, leftDecor]
});

// ---- right panel: q0 - j0 samples coloured by H0 ----
new Chart(document.getElementById('right'), {
  type: 'scatter',
  data: {
    datasets: [
      {
        type: 'scatter',
        data: cvSamples.map(s => ({ x: s[0], y: s[1] })),
        backgroundColor: cvSamples.map(s => jet((s[2] - hMin) / (hMax - hMin))),
        borderColor: '#000',
        borderWidth: 0.9,
        pointRadius: 3.4,
        order: 1
      },
      {
        type: 'line',
        data: relQ0.map((q, i) => ({ x: q, y: relJ0[i] })),
        borderColor: '#000',
        borderWidth: 1,
        borderDash: [7, 5],
        pointRadius: 0,
        cubicInterpolationMode: 'monotone',
        fill: false,
        order: 2
      }
    ]
  },
  options: {
    responsive: false,
    animation: false,
    layout: { padding: { top: 30, right: 11, left: 0, bottom: 0 } },
    plugins: { legend: { display: false }, tooltip: { enabled: false } },
    scales: {
      x: {
        type: 'linear', min: -0.9, max: -0.2,
        ticks: { stepSize: 0.1, padding: 2, autoSkip: false, maxRotation: 0, callback: v => fmt(v, 1) },
        afterBuildTicks: s => { s.ticks = s.ticks.filter(t => t.value < -0.25); },
        grid: { display: false, drawTicks: false },
        border: { display: false },
        afterFit: fixBox(undefined, 32)
      },
      y: {
        type: 'linear', min: -1, max: 2.5,
        ticks: { stepSize: 0.5, padding: 5, autoSkip: false, callback: v => fmt(v, 1) },
        grid: { display: false, drawTicks: false },
        border: { display: false },
        afterFit: fixBox(102, undefined)
      }
    }
  },
  plugins: [frameTicks, rightDecor]
});

// ---- colour bar for H0 ----
function jetGradient(chart) {
  const a = chart.chartArea;
  if (!a) return 'transparent';
  const g = chart.ctx.createLinearGradient(0, a.bottom, 0, a.top);
  for (let i = 0; i <= 80; i++) g.addColorStop(i / 80, jet(i / 80));
  return g;
}
const colorbarDecor = {
  id: 'colorbarDecor',
  afterDatasetsDraw(chart) {
    const { ctx, chartArea: a, scales: { y } } = chart;
    const L = Math.round(a.left) + 0.5, R = Math.round(a.right) - 0.5;
    const T = Math.round(a.top) + 0.5, B = Math.round(a.bottom) - 0.5;
    ctx.save();
    ctx.strokeStyle = '#000';
    ctx.lineWidth = 1;
    ctx.strokeRect(L, T, R - L, B - T);
    y.ticks.forEach(t => {
      const py = Math.round(y.getPixelForValue(t.value)) + 0.5;
      seg(ctx, R, py, R - 4, py);
    });
    ctx.fillStyle = '#000';
    ctx.translate(88, (a.top + a.bottom) / 2);
    ctx.rotate(Math.PI / 2);
    drawMath(ctx, [['H', 'i'], ['0', 's']], 0, 0, 18, 'center');
    ctx.restore();
  }
};

new Chart(document.getElementById('cbar'), {
  type: 'bar',
  data: {
    labels: [''],
    datasets: [{
      data: [[hMin, hMax]],
      backgroundColor: c => jetGradient(c.chart),
      borderWidth: 0,
      barPercentage: 1,
      categoryPercentage: 1
    }]
  },
  options: {
    responsive: false,
    animation: false,
    layout: { padding: { top: 30, bottom: 32, left: 15, right: 0 } },
    plugins: { legend: { display: false }, tooltip: { enabled: false } },
    scales: {
      x: { display: false },
      y: {
        position: 'right', min: hMin, max: hMax,
        ticks: { stepSize: 0.5, padding: 3, autoSkip: false, callback: v => v.toFixed(1) },
        grid: { display: false, drawTicks: false },
        border: { display: false },
        afterFit: fixBox(75, undefined)
      }
    }
  },
  plugins: [colorbarDecor]
});
</script>
</body>
</html>
